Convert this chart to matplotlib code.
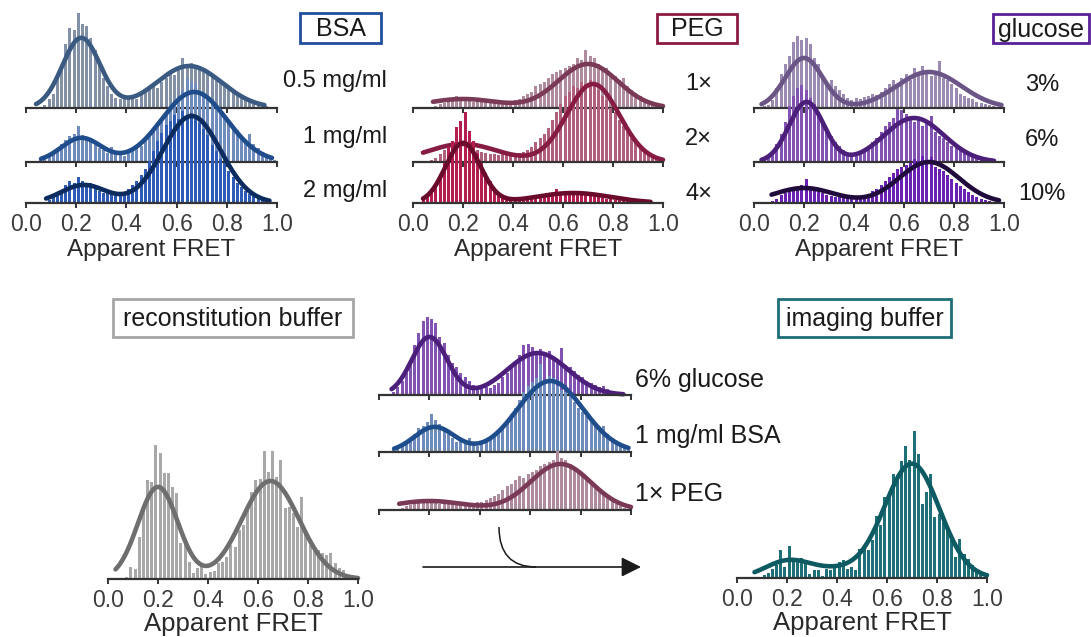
import matplotlib
matplotlib.use("Agg")
import matplotlib.pyplot as plt
import numpy as np
from matplotlib.path import Path
from matplotlib.patches import PathPatch, Rectangle

plt.rcParams["font.family"] = ["Liberation Sans", "DejaVu Sans"]

W, H = 1091, 637
N_BINS = 60
TICKS = [0.0, 0.2, 0.4, 0.6, 0.8, 1.0]
TICK_LABELS = ["0.0", "0.2", "0.4", "0.6", "0.8", "1.0"]

# ---- histogram counts (60 bins over 0..1) ----
bsa_05 = [0, 0, 0, 0, 3, 9, 14, 30, 42, 64, 80, 78, 95, 84, 82, 70, 58, 45, 30, 22,
          14, 10, 9, 12, 10, 11, 9, 13, 16, 18, 22, 20, 26, 30, 36, 33, 40, 50, 44, 45,
          42, 40, 38, 36, 34, 30, 26, 24, 20, 17, 14, 12, 9, 8, 6, 4, 3, 2, 0, 0]
bsa_1 = [0, 0, 0, 2, 4, 6, 10, 14, 18, 22, 26, 28, 36, 27, 24, 22, 17, 14, 12, 9,
         15, 8, 7, 6, 9, 12, 14, 16, 22, 26, 30, 35, 42, 50, 56, 62, 66, 72, 84, 80,
         78, 68, 70, 66, 62, 56, 50, 46, 40, 36, 32, 26, 22, 28, 18, 14, 10, 8, 4, 2]
bsa_2 = [0, 0, 0, 0, 0, 3, 6, 10, 13, 18, 22, 20, 26, 22, 18, 20, 14, 12, 10, 13,
         9, 8, 9, 11, 14, 18, 22, 28, 34, 42, 52, 62, 70, 78, 82, 88, 84, 92, 86, 90,
         84, 80, 74, 68, 58, 52, 44, 40, 32, 26, 20, 16, 12, 9, 7, 5, 3, 2, 1, 0]
peg_1 = [0, 0, 0, 0, 0, 2, 4, 5, 6, 7, 12, 7, 8, 7, 6, 8, 7, 6, 6, 7,
         6, 7, 6, 7, 8, 9, 12, 14, 16, 22, 24, 26, 30, 34, 36, 38, 40, 42, 44, 50,
         48, 58, 52, 50, 44, 38, 40, 34, 32, 28, 30, 22, 18, 15, 12, 9, 6, 4, 2, 1]
peg_2 = [0, 0, 0, 0, 2, 4, 8, 12, 16, 20, 18, 22, 20, 16, 14, 12, 10, 9, 8, 8,
         7, 8, 7, 8, 9, 9, 10, 12, 15, 20, 24, 28, 34, 42, 50, 58, 66, 70, 76, 74,
         80, 78, 82, 76, 72, 66, 62, 54, 50, 42, 36, 30, 24, 20, 15, 12, 8, 6, 4, 2]
peg_4 = [0, 0, 3, 6, 12, 18, 26, 40, 56, 62, 76, 82, 91, 72, 62, 50, 40, 30, 22, 14,
         10, 8, 6, 5, 5, 4, 5, 4, 5, 6, 5, 6, 7, 8, 14, 9, 10, 11, 10, 12,
         10, 9, 8, 7, 6, 5, 4, 4, 3, 3, 2, 2, 1, 1, 1, 1, 0, 0, 0, 0]
glc_3 = [0, 0, 2, 3, 8, 20, 34, 44, 52, 66, 72, 68, 70, 64, 50, 44, 32, 26, 28, 22,
         18, 14, 10, 8, 10, 9, 11, 12, 14, 13, 16, 20, 24, 28, 24, 30, 34, 28, 40, 36,
         42, 36, 32, 34, 47, 30, 28, 24, 20, 14, 12, 10, 9, 6, 5, 4, 3, 2, 1, 0]
glc_6 = [0, 0, 3, 6, 10, 18, 28, 40, 56, 66, 74, 77, 72, 64, 58, 50, 40, 34, 26, 20,
         16, 12, 9, 8, 7, 10, 12, 16, 20, 24, 30, 36, 40, 44, 53, 52, 48, 46, 40, 42,
         36, 40, 46, 30, 26, 24, 20, 16, 14, 12, 10, 8, 7, 6, 5, 4, 3, 2, 1, 0]
glc_10 = [0, 0, 0, 0, 2, 4, 8, 10, 12, 14, 16, 18, 24, 15, 14, 12, 10, 8, 7, 6,
          6, 5, 6, 5, 6, 7, 8, 9, 12, 14, 18, 22, 26, 30, 34, 36, 38, 40, 44, 42,
          47, 40, 46, 36, 34, 32, 28, 24, 20, 17, 14, 11, 8, 6, 4, 3, 2, 1, 0, 0]
recon = [0, 0, 0, 0, 2, 12, 10, 42, 72, 99, 97, 134, 126, 106, 106, 92, 86, 36, 37, 17,
         6, 11, 16, 5, 7, 8, 16, 17, 22, 34, 32, 49, 54, 69, 87, 99, 100, 128, 107, 128,
         102, 119, 71, 72, 66, 52, 82, 49, 34, 32, 29, 26, 24, 26, 16, 11, 9, 4, 4, 2]
mix_glc = [0, 0, 0, 3, 8, 14, 22, 34, 50, 62, 74, 78, 76, 72, 58, 52, 40, 32, 28, 22,
           18, 14, 10, 8, 6, 8, 7, 10, 12, 18, 22, 28, 34, 40, 50, 51, 48, 44, 46, 40,
           44, 38, 36, 47, 30, 28, 24, 20, 18, 14, 12, 10, 8, 9, 6, 4, 3, 2, 1, 0]
mix_bsa = [0, 0, 0, 2, 4, 7, 10, 14, 18, 24, 26, 30, 38, 32, 28, 24, 18, 14, 10, 12,
           8, 14, 9, 6, 10, 12, 14, 18, 22, 26, 32, 38, 44, 52, 60, 66, 70, 74, 88, 72,
           76, 74, 66, 62, 60, 56, 50, 44, 40, 36, 30, 26, 22, 26, 18, 14, 10, 8, 4, 2]
mix_peg = [0, 0, 0, 0, 0, 2, 4, 5, 6, 8, 10, 7, 8, 7, 6, 8, 7, 6, 7, 6,
           7, 6, 7, 8, 8, 10, 12, 14, 16, 20, 24, 26, 30, 34, 32, 36, 38, 40, 44, 46,
           48, 50, 59, 52, 50, 46, 40, 40, 34, 30, 28, 24, 20, 16, 12, 9, 6, 4, 2, 1]
imaging = [0, 0, 0, 0, 0, 1, 3, 5, 9, 13, 28, 11, 32, 18, 16, 20, 14, 4, 8, 8,
           2, 9, 8, 13, 16, 18, 9, 11, 8, 29, 31, 28, 38, 62, 53, 81, 86, 104, 103, 117,
           132, 118, 147, 124, 74, 86, 104, 61, 64, 56, 49, 41, 21, 39, 24, 19, 13, 8, 3, 0]

# ---- Gaussian fit components (amplitude, centre, sigma) and fitted range ----
fit_bsa_05 = [(70, 0.22, 0.075), (42, 0.65, 0.13)]
fit_bsa_1 = [(24, 0.22, 0.08), (70, 0.67, 0.13)]
fit_bsa_2 = [(18, 0.23, 0.09), (87, 0.66, 0.115)]
fit_peg_1 = [(9, 0.20, 0.14), (44, 0.70, 0.12)]
fit_peg_2 = [(18, 0.20, 0.14), (78, 0.72, 0.105)]
fit_peg_4 = [(60, 0.20, 0.07), (10, 0.64, 0.15)]
fit_glc_3 = [(50, 0.20, 0.075), (36, 0.70, 0.13)]
fit_glc_6 = [(60, 0.21, 0.07), (44, 0.64, 0.12)]
fit_glc_10 = [(15, 0.20, 0.12), (41, 0.70, 0.12)]
fit_recon = [(92, 0.20, 0.08), (98, 0.65, 0.115)]
fit_mix_glc = [(58, 0.20, 0.07), (42, 0.63, 0.12)]
fit_mix_bsa = [(25, 0.22, 0.08), (71, 0.68, 0.13)]
fit_mix_peg = [(9, 0.20, 0.14), (46, 0.72, 0.12)]
fit_imaging = [(16, 0.20, 0.09), (8, 0.40, 0.12), (114, 0.70, 0.11)]

range_bsa_05 = (0.04, 0.95)
range_bsa_1 = (0.06, 0.98)
range_bsa_2 = (0.08, 0.97)
range_peg_1 = (0.08, 1.0)
range_peg_2 = (0.04, 1.0)
range_peg_4 = (0.04, 0.95)
range_glc_3 = (0.03, 0.99)
range_glc_6 = (0.03, 0.96)
range_glc_10 = (0.07, 0.98)
range_recon = (0.03, 1.0)
range_mix_glc = (0.05, 0.97)
range_mix_bsa = (0.06, 0.99)
range_mix_peg = (0.08, 1.0)
range_imaging = (0.07, 1.0)

TXT = "#1a1a1a"
TICK_COL = "#3c3c3c"


def fit_curve(components, xr):
    x = np.linspace(xr[0], xr[1], 300)
    y = np.zeros_like(x)
    for amp, mu, sig in components:
        y += amp * np.exp(-(x - mu) ** 2 / (2 * sig ** 2))
    return x, y


def hist_axes(fig, x0, x1, base, height, counts, fit, xr, bar_color, line_color,
              labels=False, xlabel_size=None, labelpad=2.5):
    ax = fig.add_axes([x0 / W, (H - base) / H, (x1 - x0) / W, height / H])
    ax.patch.set_visible(False)
    edges = np.linspace(0, 1, N_BINS + 1)
    centers = (edges[:-1] + edges[1:]) / 2
    bw = edges[1] - edges[0]
    ax.bar(centers, counts, width=bw * 0.72, color=bar_color, linewidth=0, zorder=2)
    x, y = fit_curve(fit, xr)
    ax.plot(x, y, color=line_color, lw=3.3, solid_capstyle="round", zorder=3, clip_on=False)
    ax.set_xlim(0, 1)
    ax.set_ylim(0, height)
    for side in ("top", "left", "right"):
        ax.spines[side].set_visible(False)
    ax.spines["bottom"].set_color("#333333")
    ax.spines["bottom"].set_linewidth(1.6)
    ax.spines["bottom"].set_zorder(4)
    ax.set_yticks([])
    ax.set_xticks(TICKS)
    ax.tick_params(axis="x", direction="out", length=3.5, width=1.4, color="#333333",
                   labelsize=16.5, labelcolor=TICK_COL, pad=3.5)
    if labels:
        ax.set_xticklabels(TICK_LABELS)
    else:
        ax.set_xticklabels([])
    if xlabel_size:
        ax.set_xlabel("Apparent FRET", fontsize=xlabel_size, color="#2a2a2a", labelpad=labelpad)
    return ax


def label(fig, x, y, s, ha="center", size=17):
    fig.text(x / W, 1 - y / H, s, ha=ha, va="baseline", fontsize=size, color=TXT)


def boxed(ov, x0, x1, y0, y1, s, edge):
    ov.add_patch(Rectangle((x0, y0), x1 - x0, y1 - y0, fc="white", ec=edge, lw=2))
    ov.text((x0 + x1) / 2, (y0 + y1) / 2 + 1, s, ha="center", va="center",
            fontsize=18, color=TXT)


fig = plt.figure(figsize=(W / 100, H / 100), dpi=100)

# overlay for arrow and boxed titles
ov = fig.add_axes([0, 0, 1, 1])
ov.set_xlim(0, W)
ov.set_ylim(H, 0)
ov.axis("off")
ov.annotate("", xy=(641, 567), xytext=(423, 567),
            arrowprops=dict(arrowstyle="-|>", lw=1.2, color="#1a1a1a", mutation_scale=30,
                            shrinkA=0, shrinkB=0))
curve = Path([(499, 527), (499, 567), (536, 567)], [Path.MOVETO, Path.CURVE3, Path.CURVE3])
ov.add_patch(PathPatch(curve, fc="none", ec="#1a1a1a", lw=1.1))

boxed(ov, 300, 381, 13, 43, "BSA", "#1f4f9e")
boxed(ov, 657, 737, 14, 43, "PEG", "#8b1a42")
boxed(ov, 993, 1089, 14, 43, "glucose", "#5a1f99")
boxed(ov, 113, 353, 299, 337, "reconstitution buffer", "#a6a6a6")
boxed(ov, 778, 951, 299, 337, "imaging buffer", "#1e6e78")

# top row: BSA
hist_axes(fig, 26, 277, 108, 110, bsa_05, fit_bsa_05, range_bsa_05, "#8391a8", "#3b5a82")
hist_axes(fig, 26, 277, 162, 110, bsa_1, fit_bsa_1, range_bsa_1, "#6f8cbd", "#1f4d8c")
hist_axes(fig, 26, 277, 203, 110, bsa_2, fit_bsa_2, range_bsa_2, "#2d5bb5", "#0c2b5e",
          labels=True, xlabel_size=17.5)
# top row: PEG
hist_axes(fig, 413, 663, 108, 110, peg_1, fit_peg_1, range_peg_1, "#b08a9d", "#7a3a57")
hist_axes(fig, 413, 663, 162, 110, peg_2, fit_peg_2, range_peg_2, "#b0607c", "#861b43")
hist_axes(fig, 413, 663, 203, 110, peg_4, fit_peg_4, range_peg_4, "#b41e4e", "#6a0b2b",
          labels=True, xlabel_size=17.5)
# top row: glucose
hist_axes(fig, 754, 1004, 108, 110, glc_3, fit_glc_3, range_glc_3, "#9b8ab2", "#6a5586")
hist_axes(fig, 754, 1004, 162, 110, glc_6, fit_glc_6, range_glc_6, "#8353b3", "#4b1f7a")
hist_axes(fig, 754, 1004, 203, 110, glc_10, fit_glc_10, range_glc_10, "#6a22b3", "#200b3c",
          labels=True, xlabel_size=17.5)

# bottom row
hist_axes(fig, 108, 358, 579, 150, recon, fit_recon, range_recon, "#a8a8a8", "#6e6e6e",
          labels=True, xlabel_size=18.5, labelpad=0.5)
hist_axes(fig, 379, 631, 395, 100, mix_glc, fit_mix_glc, range_mix_glc, "#8353b3", "#4b1f7a")
hist_axes(fig, 379, 631, 452, 100, mix_bsa, fit_mix_bsa, range_mix_bsa, "#6f8cbd", "#1f4d8c")
hist_axes(fig, 379, 631, 510, 100, mix_peg, fit_mix_peg, range_mix_peg, "#b08a9d", "#7a3a57")
hist_axes(fig, 737, 987, 578, 160, imaging, fit_imaging, range_imaging, "#1f6f79", "#0d5a63",
          labels=True, xlabel_size=18.5, labelpad=0.5)

# condition labels
label(fig, 387, 87, "0.5 mg/ml", ha="right")
label(fig, 387, 143, "1 mg/ml", ha="right")
label(fig, 387, 197, "2 mg/ml", ha="right")
label(fig, 712, 90, "1\u00d7", ha="right")
label(fig, 712, 145, "2\u00d7", ha="right")
label(fig, 712, 200, "4\u00d7", ha="right")
label(fig, 1042, 91, "3%")
label(fig, 1042, 146, "6%")
label(fig, 1042, 200, "10%")
label(fig, 635, 387, "6% glucose", ha="left", size=18)
label(fig, 635, 443, "1 mg/ml BSA", ha="left", size=18)
label(fig, 635, 501, "1\u00d7 PEG", ha="left", size=18)

fig.savefig("out.png", dpi=100)
